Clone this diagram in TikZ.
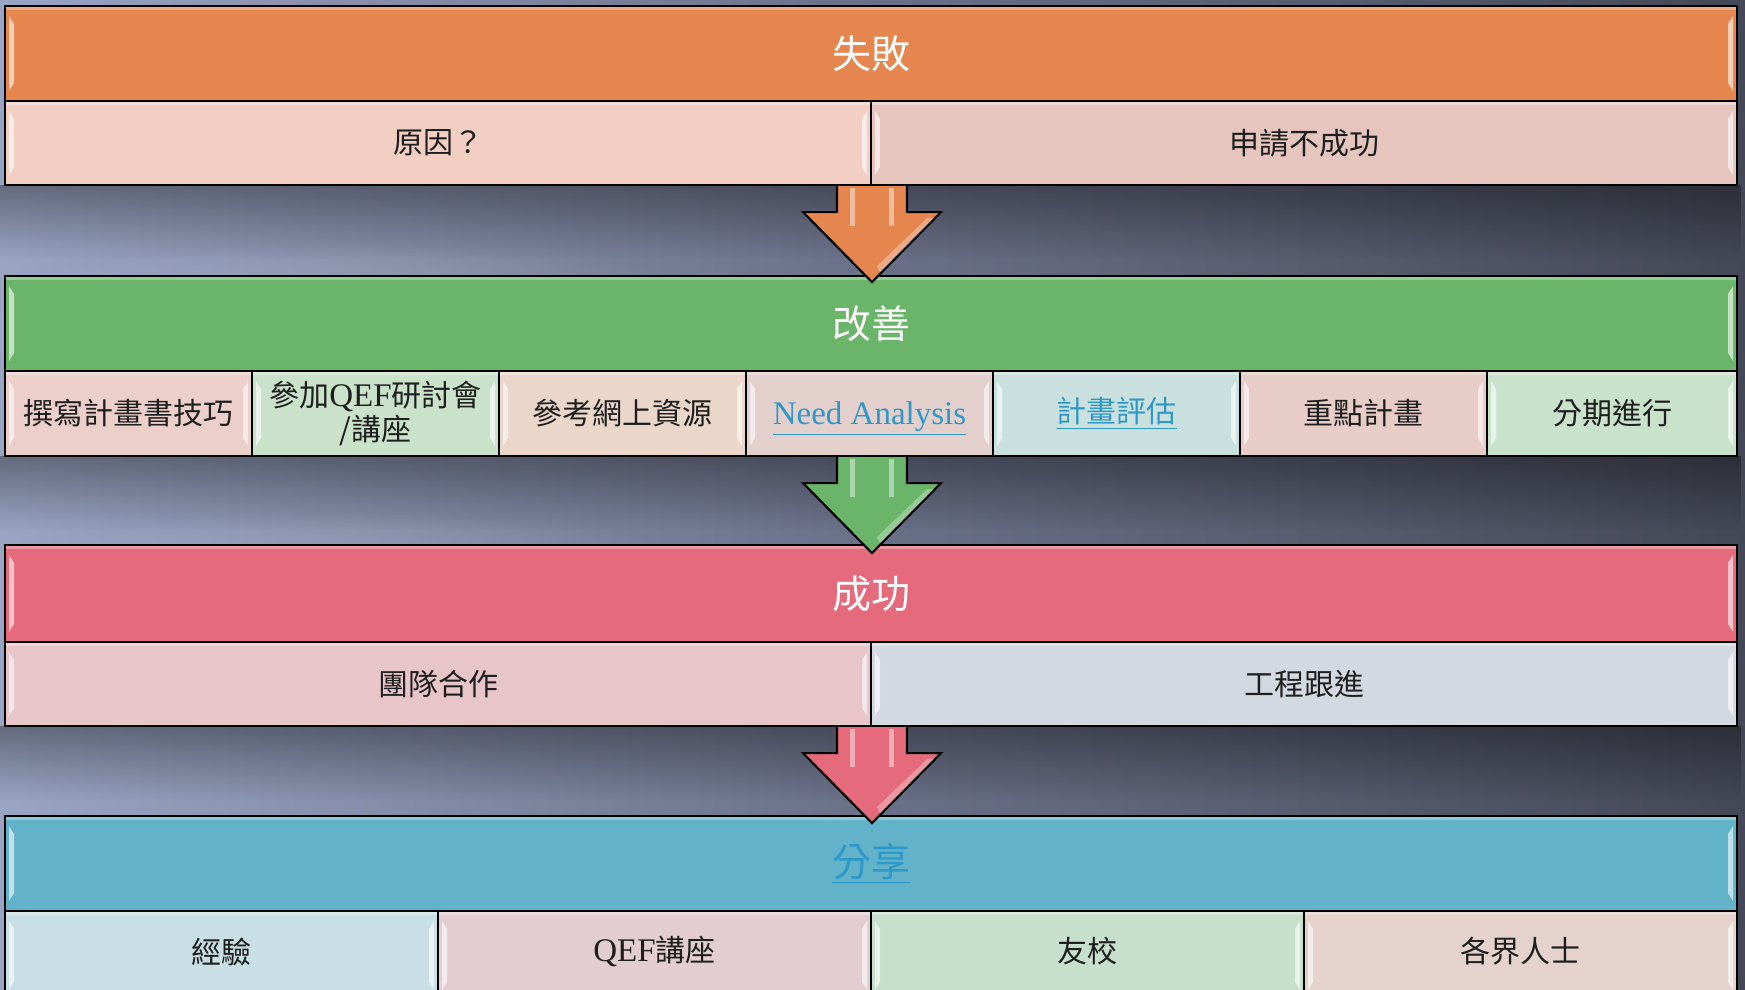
\documentclass[tikz,border=0pt]{standalone}
\usepackage{fontspec}
\setmainfont{Liberation Serif}
\newfontfamily\cjk{Noto Sans CJK TC}
\usetikzlibrary{calc,fadings}
\definecolor{bgL}{HTML}{9AA4C3}
\definecolor{bgM}{HTML}{6A7088}
\definecolor{bgR}{HTML}{444856}
\definecolor{hdrA}{HTML}{E6864F}
\definecolor{cA1}{HTML}{F2CFC2}
\definecolor{cA2}{HTML}{E6C5BE}
\definecolor{hdrB}{HTML}{6BB56A}
\definecolor{cB1}{HTML}{ECCFCB}
\definecolor{cB2}{HTML}{C9E2C9}
\definecolor{cB3}{HTML}{EAD7C9}
\definecolor{cB4}{HTML}{E3CFCC}
\definecolor{cB5}{HTML}{C9E0DF}
\definecolor{cB6}{HTML}{E7CCC8}
\definecolor{cB7}{HTML}{C9E2CB}
\definecolor{hdrC}{HTML}{E56B7C}
\definecolor{cC1}{HTML}{E8C5C9}
\definecolor{cC2}{HTML}{D3D9E0}
\definecolor{hdrD}{HTML}{62B2CA}
\definecolor{cD1}{HTML}{C7DFE5}
\definecolor{cD2}{HTML}{E3CDD2}
\definecolor{cD3}{HTML}{C6E0CD}
\definecolor{cD4}{HTML}{E5D2CC}
\definecolor{linkc}{HTML}{2E98C8}
\definecolor{txt}{HTML}{1E1E1E}
\tikzfading[name=fadedown, top color=transparent!65, bottom color=transparent!100]
\tikzfading[name=softblob, inner color=transparent!80, outer color=transparent!100]
\newcommand\cellnode[7]{\node[cell,fill=#6,minimum width={(#4-#2)*0.5pt},minimum height={(#5-#3)*0.5pt}] (#1) at ({(#2+#4)/2},{(#3+#5)/2}) {#7};}
\begin{document}
\begin{tikzpicture}[x=0.5pt,y=-0.5pt,
  cell/.style={draw=black, line width=1.1pt, inner sep=0pt, align=center, text=txt,
    font=\cjk\fontsize{15}{19}\selectfont,
    path picture={
      \fill[white,opacity=0.6] ([shift={(2pt,-5pt)}]path picture bounding box.north west) -- ([shift={(4.5pt,-9pt)}]path picture bounding box.north west) -- ([shift={(4.5pt,9pt)}]path picture bounding box.south west) -- ([shift={(2pt,5pt)}]path picture bounding box.south west) -- cycle;
      \fill[white,opacity=0.6] ([shift={(-2pt,-5pt)}]path picture bounding box.north east) -- ([shift={(-4.5pt,-9pt)}]path picture bounding box.north east) -- ([shift={(-4.5pt,9pt)}]path picture bounding box.south east) -- ([shift={(-2pt,5pt)}]path picture bounding box.south east) -- cycle;
      \fill[white,opacity=0.3] ([shift={(0pt,-0.6pt)}]path picture bounding box.north west) rectangle ([shift={(0pt,-2.2pt)}]path picture bounding box.north east);
    }},
  hdr/.style={cell, text=white, font=\cjk\fontsize{19.5}{23}\selectfont},
  blockarrow/.style={draw=black, line width=1.1pt, line join=miter}
]
\useasboundingbox (0,0) rectangle (1745,990);
% background
\shade[left color=bgL, right color=bgR, middle color=bgM] (0,0) rectangle (1745,990);
\foreach \yy in {330,600} {
  \fill[white,path fading=softblob] (350,\yy) ellipse (420 and 90);
}
% shadows below rows
\foreach \yy in {185,456,726} {
  \fill[black,path fading=fadedown] (0,\yy) rectangle (1745,\yy+75);
}

% Row A
\cellnode{hA}{5}{6}{1737}{101}{hdrA}{}
\node[hdr,draw=none,fill=none,path picture={}] (tA) at (hA) {失敗};
\cellnode{a1}{5}{101}{871}{185}{cA1}{原因？}
\cellnode{a2}{871}{101}{1737}{185}{cA2}{申請不成功}

% Row B
\cellnode{hB}{5}{276}{1737}{371}{hdrB}{}
\node[hdr,draw=none,fill=none,path picture={}] (tB) at (hB) {改善};
\cellnode{b1}{5}{371}{252}{456}{cB1}{撰寫計畫書技巧}
\cellnode{b2}{252}{371}{499}{456}{cB2}{參加{\rmfamily\fontsize{16.5}{19}\selectfont QEF}研討會\\[-2pt]/講座}
\cellnode{b3}{499}{371}{746}{456}{cB3}{參考網上資源}
\cellnode{b4}{746}{371}{993}{456}{cB4}{\raisebox{-2.5pt}[\height][\depth]{\rmfamily\color{linkc}\fontsize{16.5}{19}\selectfont\underline{Need Analysis}}}
\cellnode{b5}{993}{371}{1240}{456}{cB5}{\color{linkc}\underline{計畫評估}}
\cellnode{b6}{1240}{371}{1487}{456}{cB6}{重點計畫}
\cellnode{b7}{1487}{371}{1737}{456}{cB7}{分期進行}

% Row C
\cellnode{hC}{5}{545}{1737}{642}{hdrC}{}
\node[hdr,draw=none,fill=none,path picture={}] (tC) at (hC) {成功};
\cellnode{c1}{5}{642}{871}{726}{cC1}{團隊合作}
\cellnode{c2}{871}{642}{1737}{726}{cC2}{工程跟進}

% Row D
\cellnode{hD}{5}{816}{1737}{911}{hdrD}{}
\node[hdr,draw=none,fill=none,path picture={},text=linkc] (tD) at (hD) {\underline{分享}};
\cellnode{d1}{5}{911}{438}{1000}{cD1}{\raisebox{2pt}[\height][\depth]{經驗}}
\cellnode{d2}{438}{911}{871}{1000}{cD2}{\raisebox{2pt}[\height][\depth]{{\rmfamily\fontsize{16.5}{19}\selectfont QEF}講座}}
\cellnode{d3}{871}{911}{1304}{1000}{cD3}{\raisebox{2pt}[\height][\depth]{友校}}
\cellnode{d4}{1304}{911}{1737}{1000}{cD4}{\raisebox{2pt}[\height][\depth]{各界人士}}

% block arrows
\foreach \src/\col in {a1/hdrA,b4/hdrB,c1/hdrC} {
  \path let \p1=(\src.south) in coordinate (top) at (872,0) coordinate (tmp) at (\p1);
  \path let \p1=(tmp), \p2=(top) in coordinate (top) at (\x2,\y1);
  \draw[blockarrow, fill=\col] ($(top)+(-35,0)$) -- ($(top)+(-35,26)$) -- ($(top)+(-69,26)$) -- ($(top)+(0,96)$) -- ($(top)+(69,26)$) -- ($(top)+(35,26)$) -- ($(top)+(35,0)$);
  \fill[white,opacity=0.45] ($(top)+(-22,2)$) rectangle ($(top)+(-17,40)$);
  \fill[white,opacity=0.45] ($(top)+(17,2)$) rectangle ($(top)+(22,40)$);
  \fill[white,opacity=0.3] ($(top)+(55,32)$) -- ($(top)+(62,32)$) -- ($(top)+(8,86)$) -- ($(top)+(5,80)$) -- cycle;
}
\end{tikzpicture}
\end{document}
